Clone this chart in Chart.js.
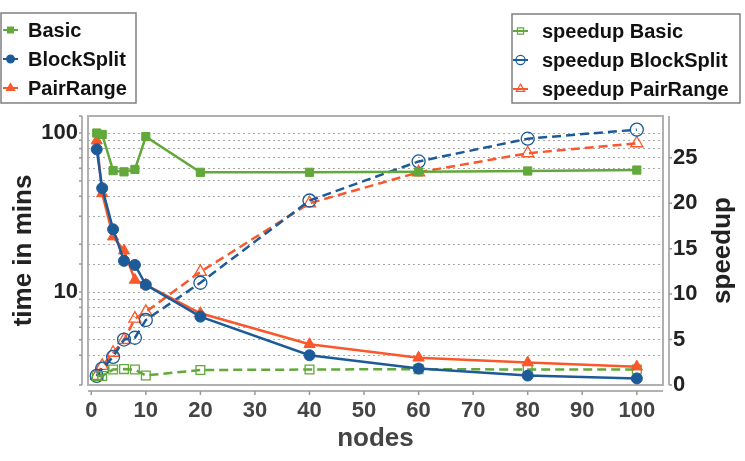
<!DOCTYPE html>
<html>
<head>
<meta charset="utf-8">
<script src="https://cdn.jsdelivr.net/npm/chart.js@4"></script>
<style>
  html, body { margin: 0; padding: 0; background: #fff; }
  #wrap { width: 745px; height: 461px; }
</style>
</head>
<body>
<div id="wrap"><canvas id="myChart" width="745" height="461"></canvas></div>
<script>
// Values
const nodes = [1, 2, 4, 6, 8, 10, 20, 40, 60, 80, 100];

const timeBasic = [100, 98, 58, 57, 59, 95, 56.6, 56.6, 57, 57.7, 58.5];
const timeBlockSplit = [79, 45, 24.8, 15.7, 14.8, 11.1, 7.0, 4.0, 3.3, 2.98, 2.86];
const timePairRange = [89.5, 41.7, 22.3, 18.2, 11.9, 11.1, 7.35, 4.69, 3.86, 3.6, 3.39];

const speedupBasic = [1.0, 1.0, 1.7, 1.75, 1.7, 1.05, 1.65, 1.7, 1.75, 1.7, 1.7];
const speedupBlockSplit = [1.0, 1.8, 3.1, 5.0, 5.2, 7.15, 11.25, 20.3, 24.6, 27.1, 28.1];
const speedupPairRange = [1.0, 2.1, 3.55, 4.95, 7.3, 8.05, 12.45, 20.0, 23.4, 25.5, 26.6];

const xTicks = [0, 10, 20, 30, 40, 50, 60, 70, 80, 90, 100];
const timeLabels = [10, 100];
const speedupTicks = [0, 5, 10, 15, 20, 25];

const GREEN = '#62a83a';
const BLUE = '#1d5a98';
const ORANGE = '#f9582a';
const FAMILY = '"Liberation Sans", Arial, sans-serif';

const toPoints = (ys) => ys.map((y, i) => ({ x: nodes[i], y: y }));

function timeSet(label, ys, color, style, r) {
    return {
        label: label,
        data: toPoints(ys),
        yAxisID: 'yTime',
        borderColor: color,
        backgroundColor: color,
        borderWidth: 2.5,
        pointStyle: style,
        pointRadius: r,
        pointBorderWidth: 1,
        pointBackgroundColor: color,
        pointBorderColor: color,
        tension: 0,
        legendGroup: 'left'
    };
}

function speedSet(label, ys, color, style, r) {
    return {
        label: label,
        data: toPoints(ys),
        yAxisID: 'ySpeed',
        borderColor: color,
        backgroundColor: 'rgba(0,0,0,0)',
        borderWidth: 2.5,
        borderDash: [9, 5],
        pointStyle: style,
        pointRadius: r,
        pointBorderWidth: 1.3,
        pointBackgroundColor: 'rgba(0,0,0,0)',
        pointBorderColor: color,
        tension: 0,
        legendGroup: 'right'
    };
}

const datasets = [
    timeSet('Basic', timeBasic, GREEN, 'rect', 5.8),
    timeSet('BlockSplit', timeBlockSplit, BLUE, 'circle', 5.5),
    timeSet('PairRange', timePairRange, ORANGE, 'triangle', 6.5),
    speedSet('speedup Basic', speedupBasic, GREEN, 'rect', 6.2),
    speedSet('speedup BlockSplit', speedupBlockSplit, BLUE, 'circle', 6.5),
    speedSet('speedup PairRange', speedupPairRange, ORANGE, 'triangle', 7)
];

// plot frame, offset axis lines, the right title and the two legend boxes
const decorations = {
    id: 'decorations',
    beforeDatasetsDraw(chart) {
        const { ctx, chartArea: a } = chart;
        ctx.save();
        ctx.strokeStyle = '#b0b0b0';
        ctx.lineWidth = 2;
        ctx.strokeRect(a.left, a.top, a.right - a.left, a.bottom - a.top);
        ctx.restore();
    },
    afterDraw(chart) {
        const { ctx, chartArea: a, scales } = chart;
        ctx.save();
        ctx.strokeStyle = '#999';
        ctx.lineWidth = 1.5;
        // left axis
        const lx = a.left - 6;
        ctx.beginPath();
        ctx.moveTo(lx, a.top); ctx.lineTo(lx, a.bottom);
        scales.yTime.ticks.forEach(t => {
            const y = scales.yTime.getPixelForValue(t.value);
            ctx.moveTo(lx, y); ctx.lineTo(lx - 3, y);
        });
        // right axis
        const rx = a.right + 6;
        ctx.moveTo(rx, a.top); ctx.lineTo(rx, a.bottom);
        scales.ySpeed.ticks.forEach(t => {
            const y = scales.ySpeed.getPixelForValue(t.value);
            ctx.moveTo(rx, y); ctx.lineTo(rx + 3, y);
        });
        // bottom axis
        const by = a.bottom + 6;
        ctx.moveTo(a.left, by); ctx.lineTo(a.right, by);
        scales.x.ticks.forEach(t => {
            const x = scales.x.getPixelForValue(t.value);
            ctx.moveTo(x, by); ctx.lineTo(x, by + 4);
        });
        ctx.stroke();

        // right axis title, reading bottom to top
        ctx.fillStyle = '#222';
        ctx.font = 'bold 26px ' + FAMILY;
        ctx.textAlign = 'center';
        ctx.textBaseline = 'middle';
        ctx.translate(723, (a.top + a.bottom) / 2);
        ctx.rotate(-Math.PI / 2);
        ctx.fillText('speedup', 0, 0);
        ctx.restore();

        drawLegend(chart, 'left', 1, 13, 135, 90, 3, 28);
        drawLegend(chart, 'right', 512, 14, 228, 89, 513, 542);
    }
};

function drawLegend(chart, group, bx, by, bw, bh, lineX, textX) {
    const ctx = chart.ctx;
    const sets = chart.data.datasets.filter(d => d.legendGroup === group);
    ctx.save();
    ctx.fillStyle = '#fff';
    ctx.fillRect(bx, by, bw, bh);
    ctx.strokeStyle = '#808080';
    ctx.lineWidth = 1.5;
    ctx.strokeRect(bx, by, bw, bh);
    ctx.font = 'bold 20px ' + FAMILY;
    ctx.textBaseline = 'middle';
    sets.forEach((d, i) => {
        const y = by + 17 + i * 29;
        ctx.strokeStyle = d.borderColor;
        ctx.lineWidth = 2;
        ctx.setLineDash([]);
        ctx.beginPath();
        ctx.moveTo(lineX, y); ctx.lineTo(lineX + 15, y);
        ctx.stroke();
        ctx.fillStyle = d.pointBackgroundColor;
        ctx.lineWidth = 1.2;
        Chart.helpers.drawPoint(ctx, {
            pointStyle: d.pointStyle,
            radius: d.pointRadius * 0.7,
            rotation: 0,
            borderWidth: 1.2
        }, lineX + 7.5, y);
        ctx.fillStyle = '#111';
        ctx.fillText(d.label, textX, y + 1);
    });
    ctx.restore();
}

const tickFont = { family: FAMILY, size: 22, weight: 'bold' };
const titleFont = { family: FAMILY, size: 26, weight: 'bold' };

new Chart(document.getElementById('myChart'), {
    type: 'line',
    data: { datasets: datasets },
    plugins: [decorations],
    options: {
        responsive: false,
        animation: false,
        layout: { padding: { top: 116, left: 0, right: 0, bottom: 0 } },
        plugins: {
            legend: { display: false },
            tooltip: { enabled: false }
        },
        scales: {
            x: {
                type: 'linear',
                min: -0.6,
                max: 104.8,
                afterBuildTicks: s => { s.ticks = xTicks.map(v => ({ value: v })); },
                afterFit: s => { s.height = 76; },
                grid: { display: false, drawTicks: false },
                border: { display: false },
                ticks: { font: tickFont, color: '#444', padding: 13, maxRotation: 0, autoSkip: false },
                title: { display: true, text: 'nodes', font: titleFont, color: '#444', padding: { top: 0, bottom: 7 } }
            },
            yTime: {
                type: 'logarithmic',
                position: 'left',
                min: 2.6,
                max: 128,
                afterFit: s => { s.width = 88; },
                grid: {
                    display: true,
                    drawTicks: false,
                    color: '#a6a6a6',
                    lineWidth: 1
                },
                border: { display: false, dash: [2, 3] },
                ticks: {
                    font: tickFont,
                    color: '#222',
                    padding: 10,
                    autoSkip: false,
                    callback: v => timeLabels.includes(Math.round(v * 1000) / 1000) ? String(v) : ''
                },
                title: { display: true, text: 'time in mins', font: titleFont, color: '#222', padding: { top: 8, bottom: 0 } }
            },
            ySpeed: {
                type: 'linear',
                position: 'right',
                min: 0,
                max: 29.6,
                afterBuildTicks: s => { s.ticks = speedupTicks.map(v => ({ value: v })); },
                afterFit: s => { s.width = 82; },
                grid: { display: false, drawTicks: false },
                border: { display: false },
                ticks: { font: tickFont, color: '#222', padding: 10 },
                title: { display: false }
            }
        }
    }
});
</script>
</body>
</html>
